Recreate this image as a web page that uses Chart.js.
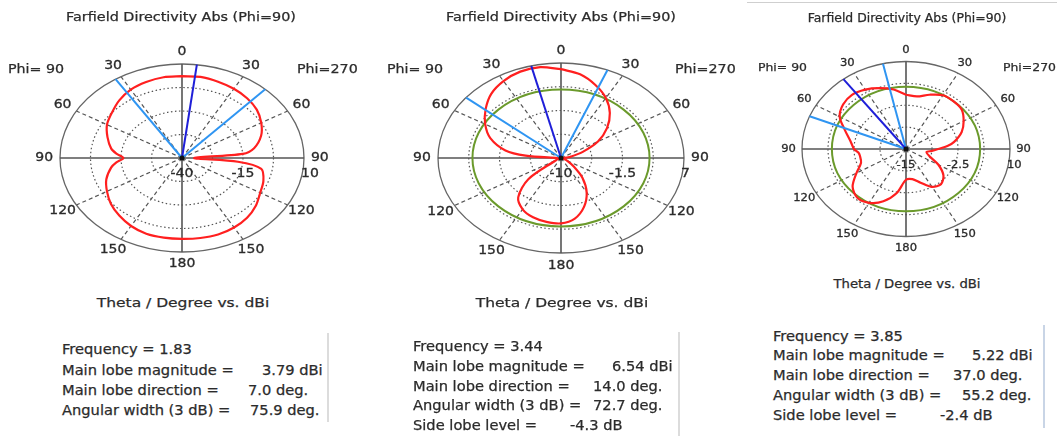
<!DOCTYPE html>
<html>
<head>
<meta charset="utf-8">
<script src="https://cdn.jsdelivr.net/npm/chart.js@4.4.0/dist/chart.umd.min.js"></script>
<style>
  body { margin: 0; width: 1057px; height: 436px; background: #fff; position: relative; overflow: hidden;
         font-family: "DejaVu Sans", Verdana, sans-serif; color: #2b2b2b; }
  .t { position: absolute; white-space: pre; line-height: 1; -webkit-text-stroke: 0.25px #2b2b2b; }
  canvas { position: absolute; }
  .ln { position: absolute; }
</style>
</head>
<body>
<script>
// theta (deg) sample points of the Phi=90 cut
const thetaDeg = [0, 10, 20, 30, 40, 50, 60, 70, 80, 85, 90, 95, 100, 110, 120, 130, 140, 150, 160, 170, 180];

// directivity in dBi, right half (Phi=270) and left half (Phi=90)
const d183Phi270 = [3.5, 3.8, 3.2, 2.5, 1.5, 0, -2.5, -5.5, -10, -15, -35, -17, -7, -4.5, -3, -0.5, 1.5, 2.7, 3.3, 3.2, 3.0];
const d183Phi90  = [3.5, 3.6, 3.0, 2.0, 0, -2.5, -4.5, -7.5, -10.5, -13, -16, -13, -10.5, -7, -4.5, -2, 0, 1.75, 2.85, 3.0, 3.0];
const d344Phi270 = [5.9, 5.2, 3.9, 2.4, 0.5, -1.7, -4.1, -6.8, -8.6, -9.3, -9.7, -9.7, -9.7, -9.5, -9.0, -7.8, -5.4, -2.9, -0.7, 1.0, 1.7];
const d344Phi90  = [5.9, 6.5, 6.45, 5.9, 5.0, 3.6, 2.1, 0.4, -2.2, -5.1, -9.5, -9.8, -9.8, -9.7, -9.2, -4.1, -0.8, 0.6, 1.3, 1.6, 1.7];
const d385Phi270 = [0.5, 0.25, 1.5, 2.75, 2.8, 2.5, 1.0, -0.75, -3.25, -5, -7.25, -8.75, -10, -9, -6, -3.25, -1.9, -2.5, -4.75, -6.25, -6.2];
const d385Phi90  = [0.5, 2.25, 3.5, 4.6, 5.2, 4.75, 3.4, 0.6, -1.4, -2, -2.5, -3.5, -3.75, -3.5, -1.25, 1.75, 3.2, 2.75, 0.9, -2.25, -6.2];

const dbMin = [-40, -10, -15];
const dbMax = [10, 7, 10];
const radialTicks = [[-40, -15, 10], [-10, -1.5, 7], [-15, -2.5, 10]];
const angleTicks = [0, 30, 60, 90, 120, 150, 180];

const freq = ['1.83', '3.44', '3.85'];
const mainMag = [3.79, 6.54, 5.22];
const mainDir = [7.0, 14.0, 37.0];
const mainSide = [1, -1, -1];            // +1 = Phi=270 half (right), -1 = Phi=90 half (left)
const beamEdges = [[-33, 43], [-50.5, 22.2], [-68, -12.8]];  // signed theta of 3 dB edges
const angWidth = [75.9, 72.7, 55.2];
const sideLobe = [null, -4.3, -2.4];

const series = [
  [d183Phi270, d183Phi90],
  [d344Phi270, d344Phi90],
  [d385Phi270, d385Phi90]
];

// placement of each plot on the page
const layout = [
  { cx: 182, cy: 158, a: 122, b: 94, fs: 12.5, sx: 1.12 },
  { cx: 561, cy: 158, a: 123, b: 95, fs: 12.5, sx: 1.12 },
  { cx: 906, cy: 149, a: 104, b: 87.5, fs: 11, sx: 1.05 }
];

const rad = Math.PI / 180;

function text(str, x, y, fs, sx, align) {
  const d = document.createElement('div');
  d.className = 't';
  d.textContent = str;
  d.style.left = x + 'px';
  d.style.top = y + 'px';
  d.style.fontSize = fs + 'px';
  if (align === 'center') {
    d.style.transformOrigin = 'center center';
    d.style.transform = `translate(-50%,-50%) scaleX(${sx})`;
  } else {
    d.style.transformOrigin = 'left center';
    d.style.transform = `translate(0,-50%) scaleX(${sx})`;
  }
  document.body.appendChild(d);
}

function line(x, y, w, h, color) {
  const d = document.createElement('div');
  d.className = 'ln';
  d.style.left = x + 'px';
  d.style.top = y + 'px';
  d.style.width = w + 'px';
  d.style.height = h + 'px';
  d.style.background = color;
  document.body.appendChild(d);
}

function toXY(theta, db, side, lo, hi) {
  const r = Math.max(0, (db - lo) / (hi - lo));
  return { x: side * r * Math.sin(theta * rad), y: r * Math.cos(theta * rad) };
}

function ray(deg, color) {
  return {
    data: [{ x: 0, y: 0 }, { x: Math.sin(deg * rad), y: Math.cos(deg * rad) }],
    showLine: true, borderColor: color, borderWidth: 2, pointRadius: 0
  };
}

function makePlot(i) {
  const L = layout[i];
  const lo = dbMin[i], hi = dbMax[i];
  const W = 2 * Math.round(1.5 * L.a);
  const H = 2 * Math.round(1.45 * L.b);
  const X = (W / 2) / L.a, Y = (H / 2) / L.b;

  const cv = document.createElement('canvas');
  cv.width = W; cv.height = H;
  cv.style.left = (L.cx - W / 2) + 'px';
  cv.style.top = (L.cy - H / 2) + 'px';
  document.body.appendChild(cv);

  const [right, left] = series[i];
  const pts = [];
  thetaDeg.forEach((t, k) => pts.push(toXY(t, right[k], 1, lo, hi)));
  for (let k = thetaDeg.length - 2; k >= 0; k--) pts.push(toXY(thetaDeg[k], left[k], -1, lo, hi));

  const datasets = [
    ray(mainSide[i] * mainDir[i], '#1f1fd8'),
    ray(beamEdges[i][0], '#2f95f2'),
    ray(beamEdges[i][1], '#2f95f2'),
    { data: pts, showLine: true, borderColor: '#ff1f1f', borderWidth: 2.2, pointRadius: 0, tension: 0.3 }
  ];

  const grid = {
    id: 'polarGrid',
    beforeDatasetsDraw(chart) {
      const xs = chart.scales.x, ys = chart.scales.y, ctx = chart.ctx;
      const cx = xs.getPixelForValue(0), cy = ys.getPixelForValue(0);
      const ell = r => {
        ctx.beginPath();
        ctx.ellipse(cx, cy, xs.getPixelForValue(r) - cx, cy - ys.getPixelForValue(r), 0, 0, Math.PI * 2);
      };
      ctx.save();
      ctx.strokeStyle = '#555';
      // dotted rings
      ctx.lineWidth = 1.2;
      ctx.setLineDash([1.5, 2.5]);
      [0.25, 0.5, 0.75].forEach(r => { ell(r); ctx.stroke(); });
      // dashed spokes
      ctx.setLineDash([4, 3]);
      [30, 60, 120, 150].forEach(t => {
        [1, -1].forEach(s => {
          ctx.beginPath();
          ctx.moveTo(cx, cy);
          ctx.lineTo(xs.getPixelForValue(s * Math.sin(t * rad)), ys.getPixelForValue(Math.cos(t * rad)));
          ctx.stroke();
        });
      });
      ctx.setLineDash([]);
      // outer ring and axes
      ctx.strokeStyle = '#666';
      ctx.lineWidth = 1.3;
      ell(1); ctx.stroke();
      ctx.strokeStyle = '#555';
      ctx.lineWidth = 1.6;
      ctx.beginPath();
      ctx.moveTo(xs.getPixelForValue(-1), cy); ctx.lineTo(xs.getPixelForValue(1), cy);
      ctx.moveTo(cx, ys.getPixelForValue(1)); ctx.lineTo(cx, ys.getPixelForValue(-1));
      ctx.stroke();
      // side lobe level ring
      if (sideLobe[i] !== null) {
        const r = (mainMag[i] + sideLobe[i] - lo) / (hi - lo);
        ctx.strokeStyle = '#6b9a2c';
        ctx.lineWidth = 2;
        ell(r); ctx.stroke();
      }
      ctx.restore();
    },
    afterDatasetsDraw(chart) {
      const xs = chart.scales.x, ys = chart.scales.y, ctx = chart.ctx;
      const cx = xs.getPixelForValue(0), cy = ys.getPixelForValue(0);
      ctx.save();
      ctx.fillStyle = '#111';
      ctx.beginPath(); ctx.arc(cx, cy, 2.5, 0, Math.PI * 2); ctx.fill();
      ctx.fillStyle = '#2b2b2b';
      ctx.strokeStyle = '#2b2b2b';
      ctx.lineWidth = 0.3;
      ctx.font = L.fs + 'px "DejaVu Sans"';
      ctx.textBaseline = 'middle';
      const put = (s, x, y, align) => {
        ctx.save();
        ctx.translate(x, y);
        ctx.scale(L.sx, 1);
        ctx.textAlign = align;
        ctx.fillText(s, 0, 0);
        ctx.strokeText(s, 0, 0);
        ctx.restore();
      };
      angleTicks.forEach(t => {
        const sides = (t === 0 || t === 180) ? [1] : [1, -1];
        sides.forEach(s => {
          put(String(t), xs.getPixelForValue(s * 1.13 * Math.sin(t * rad)), ys.getPixelForValue(1.13 * Math.cos(t * rad)), 'center');
        });
      });
      const ticks = radialTicks[i];
      ticks.forEach((v, k) => {
        const r = (v - lo) / (hi - lo);
        if (k === ticks.length - 1) put(String(v), xs.getPixelForValue(r) - 3, cy + 16, 'left');
        else put(String(v), xs.getPixelForValue(r), cy + 16, 'center');
      });
      ctx.restore();
    }
  };

  new Chart(cv.getContext('2d'), {
    type: 'scatter',
    data: { datasets },
    options: {
      responsive: false,
      animation: false,
      events: [],
      layout: { padding: 0 },
      plugins: { legend: { display: false }, tooltip: { enabled: false } },
      scales: {
        x: { type: 'linear', min: -X, max: X, display: false },
        y: { type: 'linear', min: -Y, max: Y, display: false }
      }
    },
    plugins: [grid]
  });
}

[0, 1, 2].forEach(makePlot);

// titles and captions
const title = 'Farfield Directivity Abs (Phi=90)';
text(title, 181, 16.5, 12.5, 1.15, 'center');
text(title, 561, 16.5, 12.5, 1.15, 'center');
text(title, 907, 18.5, 11.5, 1.08, 'center');

text('Phi= 90', 8, 69, 12.4, 1.15);
text('Phi=270', 297, 69, 12.4, 1.15);
text('Phi= 90', 387, 69, 12.4, 1.15);
text('Phi=270', 675, 69, 12.4, 1.15);
text('Phi= 90', 758, 67, 11, 1.13);
text('Phi=270', 1003, 67, 11, 1.13);

text('Theta / Degree vs. dBi', 183, 302, 13, 1.19, 'center');
text('Theta / Degree vs. dBi', 561.5, 302, 13, 1.19, 'center');
text('Theta / Degree vs. dBi', 907, 283.5, 12, 1.1, 'center');

// result boxes
const boxes = [
  { x: 62, rows: [350, 370.5, 391, 411], vx: [262, 248, 249.5], line: [327, 333, 89, '#dcdcdc'] },
  { x: 412.7, rows: [346.7, 366.7, 386.7, 405.7, 425.5], vx: [612, 593, 593, 570], line: [678, 332, 104, '#dcdcdc'] },
  { x: 773.3, rows: [336.7, 356.3, 376, 396, 415.7], vx: [972, 953, 962, 940], line: [1043, 325, 103, '#c9d5e6'] }
];
const fsBox = 13.7, sxBox = 1.07;
boxes.forEach((bx, i) => {
  text('Frequency = ' + freq[i], bx.x, bx.rows[0], fsBox, sxBox);
  text('Main lobe magnitude =', bx.x, bx.rows[1], fsBox, sxBox);
  text(mainMag[i].toFixed(2) + ' dBi', bx.vx[0], bx.rows[1], fsBox, sxBox);
  text('Main lobe direction =', bx.x, bx.rows[2], fsBox, sxBox);
  text(mainDir[i].toFixed(1) + ' deg.', bx.vx[1], bx.rows[2], fsBox, sxBox);
  text('Angular width (3 dB) =', bx.x, bx.rows[3], fsBox, sxBox);
  text(angWidth[i].toFixed(1) + ' deg.', bx.vx[2], bx.rows[3], fsBox, sxBox);
  if (sideLobe[i] !== null) {
    text('Side lobe level =', bx.x, bx.rows[4], fsBox, sxBox);
    text(sideLobe[i].toFixed(1) + ' dB', bx.vx[3], bx.rows[4], fsBox, sxBox);
  }
  line(bx.line[0], bx.line[1], 1.5, bx.line[2], bx.line[3]);
});
line(747, 2, 310, 1, '#cfcfcf');
</script>
</body>
</html>
